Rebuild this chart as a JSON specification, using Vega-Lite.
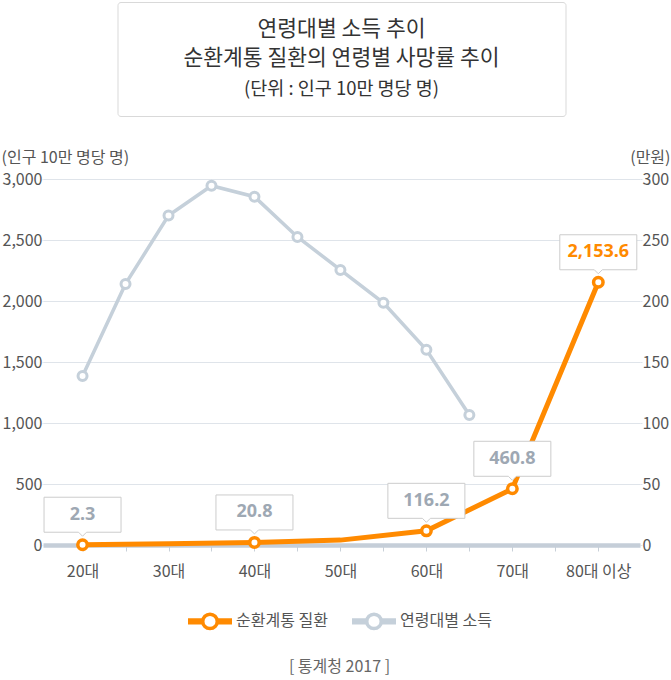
{
  "$schema": "https://vega.github.io/schema/vega-lite/v6.json",
  "background": "white",
  "padding": {"left": 1, "top": 1, "right": 0, "bottom": 6},
  "autosize": {"type": "pad"},
  "config": {"font": "Noto Sans CJK KR", "view": {"stroke": null}},
  "bounds": "flush",
  "center": true,
  "spacing": 63,
  "resolve": {"scale": {"color": "independent"}, "legend": {"color": "independent"}},
  "datasets": {
    "income": [
      {"series": "연령대별 소득", "age": 20, "income": 138.5},
      {"series": "연령대별 소득", "age": 25, "income": 214},
      {"series": "연령대별 소득", "age": 30, "income": 270},
      {"series": "연령대별 소득", "age": 35, "income": 294.5},
      {"series": "연령대별 소득", "age": 40, "income": 285.5},
      {"series": "연령대별 소득", "age": 45, "income": 252.5},
      {"series": "연령대별 소득", "age": 50, "income": 225.5},
      {"series": "연령대별 소득", "age": 55, "income": 198.5},
      {"series": "연령대별 소득", "age": 60, "income": 160},
      {"series": "연령대별 소득", "age": 65, "income": 106.5}
    ],
    "disease": [
      {"series": "순환계통 질환", "age": 20, "rate": 2.3},
      {"series": "순환계통 질환", "age": 30, "rate": 10},
      {"series": "순환계통 질환", "age": 40, "rate": 20.8},
      {"series": "순환계통 질환", "age": 50, "rate": 40},
      {"series": "순환계통 질환", "age": 60, "rate": 116.2},
      {"series": "순환계통 질환", "age": 70, "rate": 460.8},
      {"series": "순환계통 질환", "age": 80, "rate": 2153.6}
    ]
  },
  "vconcat": [
    {
      "width": 448,
      "height": 114,
      "view": {"stroke": "#d9d9d9", "strokeWidth": 1, "cornerRadius": 3, "fill": "white"},
      "data": {"values": [{}]},
      "layer": [
        {"mark": {"type": "text", "text": "연령대별 소득 추이", "fontSize": 21.5, "color": "#333333", "baseline": "middle", "dy": -29.5}},
        {"mark": {"type": "text", "text": "순환계통 질환의 연령별 사망률 추이", "fontSize": 21.5, "color": "#333333", "baseline": "middle", "dy": 0}},
        {"mark": {"type": "text", "text": "(단위 : 인구 10만 명당 명)", "fontSize": 18.5, "color": "#333333", "baseline": "middle", "dy": 29.5}}
      ]
    },
    {
      "width": 597,
      "height": 366,
      "encoding": {
        "x": {
          "field": "age",
          "type": "quantitative",
          "scale": {"domain": [15.4, 84.85], "nice": false, "zero": false},
          "axis": {
            "values": [20, 25, 30, 35, 40, 45, 50, 55, 60, 65, 70, 75, 80],
            "labelExpr": "datum.value == 80 ? '80대 이상' : (datum.value % 10 == 0 ? datum.value + '대' : '')",
            "labelOverlap": false,
            "labelFlush": false,
            "grid": false,
            "domainColor": "#c5ced8",
            "domainWidth": 4.5,
            "tickColor": "#c8d0d8",
            "tickSize": 6,
            "tickWidth": 1,
            "labelPadding": 12,
            "labelFontSize": 16,
            "labelColor": "#555555",
            "title": "[ 통계청 2017 ]",
            "titleX": 296,
            "titleY": 121,
            "titleBaseline": "middle",
            "titleFontSize": 16,
            "titleFontWeight": "normal",
            "titleColor": "#666666"
          }
        }
      },
      "resolve": {"scale": {"y": "independent"}},
      "layer": [
        {
          "data": {"name": "income"},
          "encoding": {
            "y": {
              "field": "income",
              "type": "quantitative",
              "scale": {"domain": [0, 300], "nice": false},
              "axis": {
                "orient": "right",
                "values": [0, 50, 100, 150, 200, 250, 300],
                "grid": false,
                "domain": false,
                "tickSize": 2,
                "tickColor": "#dfe4ea",
                "labelPadding": 0,
                "labelFontSize": 16,
                "labelColor": "#555555",
                "title": "(만원)",
                "titleAngle": 0,
                "titleAlign": "right",
                "titleBaseline": "middle",
                "titleX": 30,
                "titleY": -22,
                "titleFontSize": 16,
                "titleFontWeight": "normal",
                "titleColor": "#555555"
              }
            }
          },
          "layer": [
            {
              "mark": {"type": "line", "strokeWidth": 3.5},
              "encoding": {
                "color": {
                  "field": "series",
                  "type": "nominal",
                  "scale": {"domain": ["순환계통 질환", "연령대별 소득"], "range": ["#ff8a00", "#c5d0da"]}
                }
              }
            },
            {
              "mark": {"type": "point", "shape": "circle", "filled": true, "fill": "white", "stroke": "#c5d0da", "strokeWidth": 3, "size": 81, "opacity": 1}
            }
          ]
        },
        {
          "data": {"name": "disease"},
          "encoding": {
            "y": {
              "field": "rate",
              "type": "quantitative",
              "scale": {"domain": [0, 3000], "nice": false},
              "axis": {
                "orient": "left",
                "values": [0, 500, 1000, 1500, 2000, 2500, 3000],
                "format": ",.0f",
                "grid": true,
                "gridColor": "#dfe4ea",
                "gridWidth": 1,
                "domain": false,
                "tickSize": 1,
                "tickColor": "#dfe4ea",
                "labelPadding": 0,
                "labelFontSize": 16,
                "labelColor": "#555555",
                "title": "(인구 10만 명당 명)",
                "titleAngle": 0,
                "titleAlign": "left",
                "titleBaseline": "middle",
                "titleX": -42,
                "titleY": -22,
                "titleFontSize": 16,
                "titleFontWeight": "normal",
                "titleColor": "#555555"
              }
            }
          },
          "layer": [
            {
              "mark": {"type": "line", "strokeWidth": 5},
              "encoding": {
                "color": {
                  "field": "series",
                  "type": "nominal",
                  "scale": {"domain": ["순환계통 질환", "연령대별 소득"], "range": ["#ff8a00", "#c5d0da"]},
                  "legend": {
                    "orient": "none",
                    "legendX": 143,
                    "legendY": 418,
                    "direction": "horizontal",
                    "title": null,
                    "symbolType": "M-0.92,-0.057H-0.364V0.057H-0.92Z M0.364,-0.057H0.92V0.057H0.364Z M0.3295,0A0.3295,0.3295 0 1,1 -0.3295,0A0.3295,0.3295 0 1,1 0.3295,0Z",
                    "symbolSize": 1936,
                    "symbolStrokeWidth": 3.5,
                    "symbolFillColor": "white",
                    "symbolOpacity": 1,
                    "labelFontSize": 16,
                    "labelColor": "#555555",
                    "labelOffset": 2,
                    "columnPadding": 18
                  }
                }
              }
            },
            {
              "transform": [{"filter": {"field": "age", "oneOf": [20, 40, 60, 70, 80]}}],
              "layer": [
                {
                  "mark": {"type": "point", "shape": "circle", "filled": true, "fill": "white", "stroke": "#ff8a00", "strokeWidth": 3.5, "size": 90, "opacity": 1}
                },
                {
                  "mark": {"type": "point", "shape": "M-38.5,-47.5H38.5V-12.5H4L0,-8.5L-4,-12.5H-38.5Z", "size": 4, "filled": true, "fill": "white", "stroke": "#cccccc", "strokeWidth": 1, "opacity": 1}
                },
                {
                  "mark": {"type": "text", "dy": -30, "baseline": "middle", "font": "Noto Sans", "fontSize": 18, "fontWeight": "bold"},
                  "encoding": {
                    "text": {"field": "rate", "type": "quantitative", "format": ",.1f"},
                    "color": {"condition": {"test": "datum.age === 80", "value": "#ff8a00"}, "value": "#9ea8b3"}
                  }
                }
              ]
            }
          ]
        }
      ]
    }
  ]
}
